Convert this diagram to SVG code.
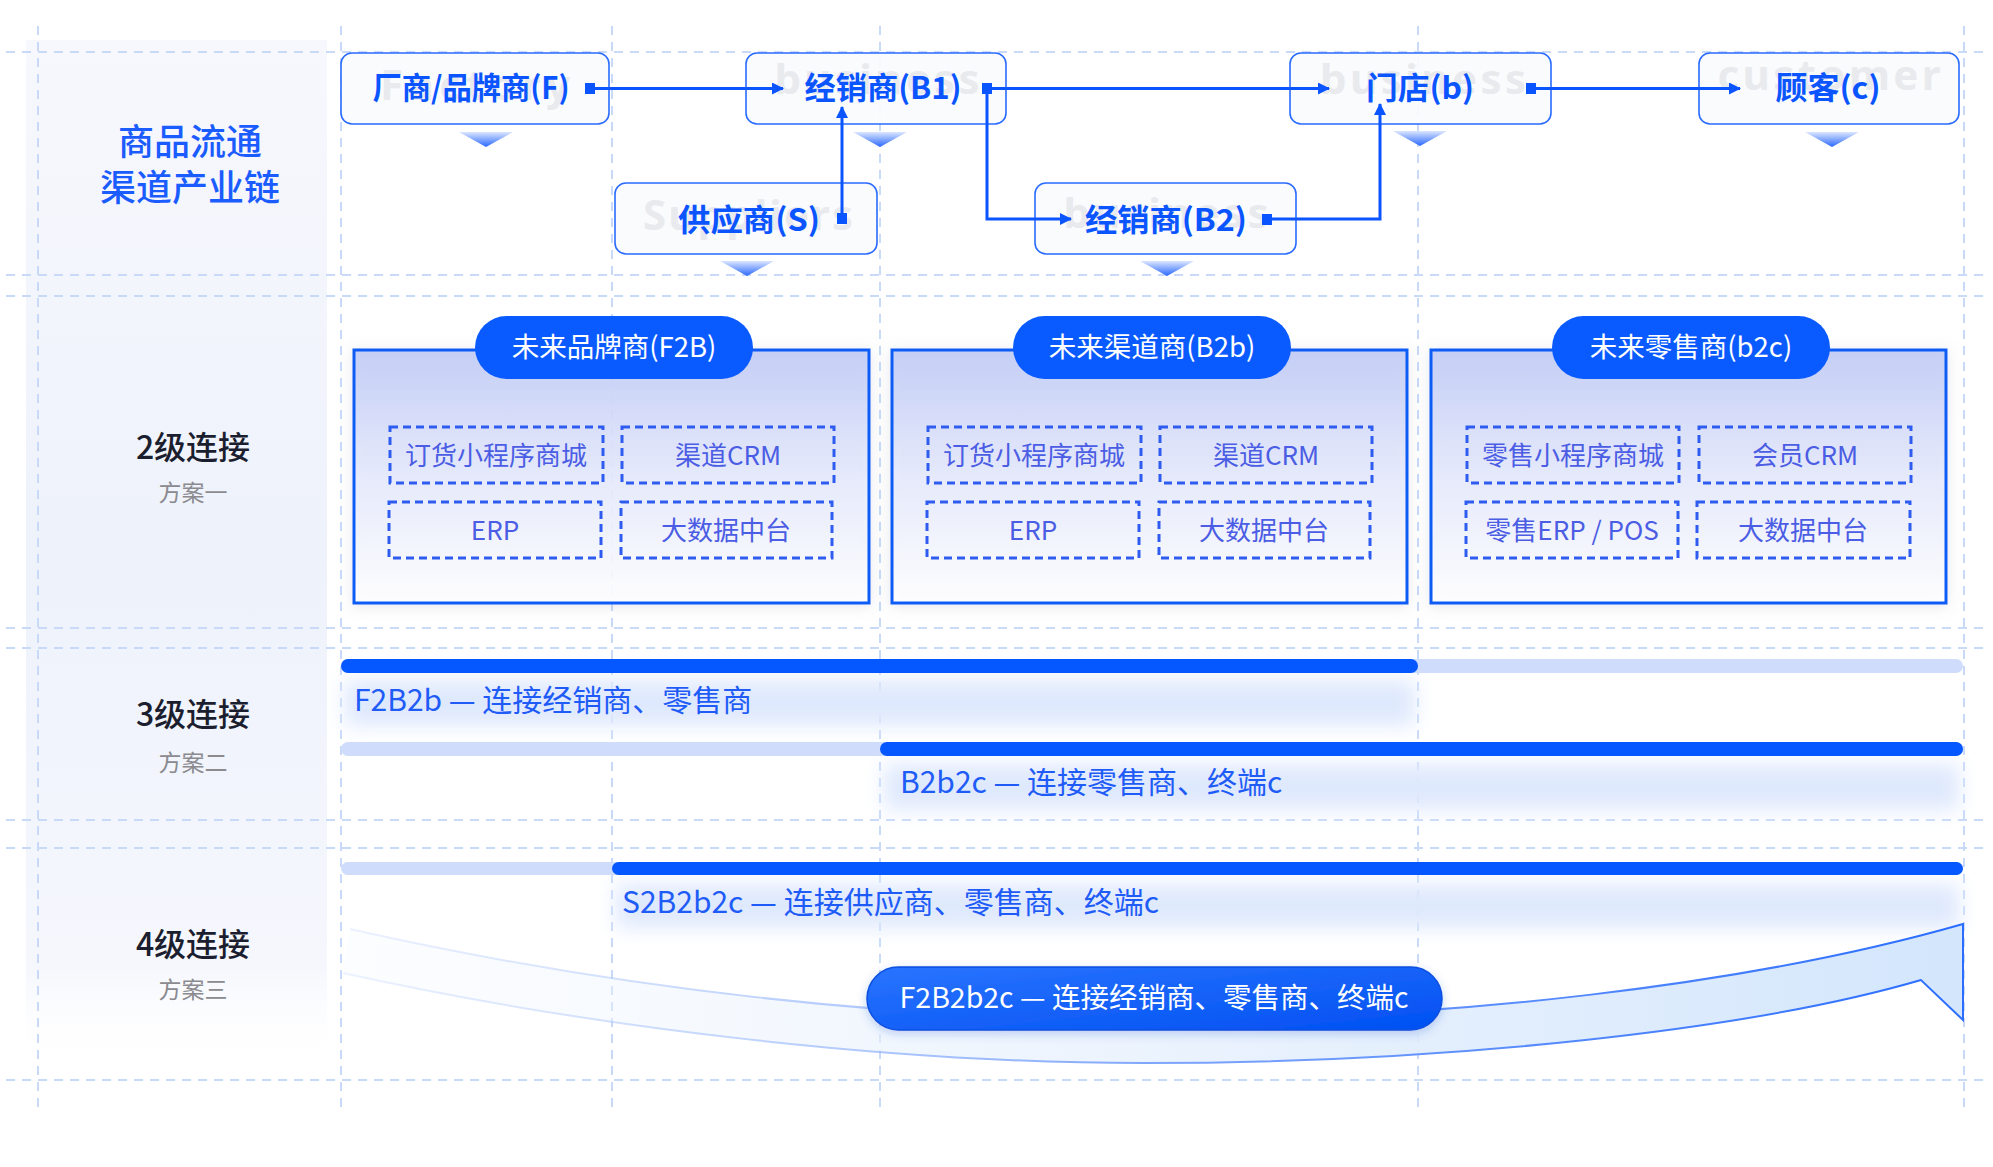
<svg xmlns="http://www.w3.org/2000/svg" width="1993" height="1167" viewBox="0 0 1993 1167">
<defs>
<style>
.grid{stroke:#c9daf9;stroke-width:2;stroke-dasharray:9 7;fill:none}
.box{fill:#fafbfd;fill-opacity:.9;stroke:#2a6bff;stroke-width:1.6}
.ntext{font-family:"Noto Sans CJK SC","Noto Sans",sans-serif;font-weight:700;font-size:31px;fill:#0a55ff;text-anchor:middle}
.ghost{font-family:"Noto Sans","Liberation Sans",sans-serif;font-weight:700;font-size:42px;fill:#e9eaed;text-anchor:middle}
.conn{stroke:#0a55ff;stroke-width:3;fill:none}
.dot{fill:#0a55ff}
.tri{fill:url(#triG)}
.title{font-family:"Noto Sans CJK SC","Noto Sans",sans-serif;font-weight:500;font-size:36px;fill:#1a5cff;text-anchor:middle}
.lvl{font-family:"Noto Sans CJK SC","Noto Sans",sans-serif;font-weight:500;font-size:32px;fill:#1b1e2e;text-anchor:middle}
.sub{font-family:"Noto Sans CJK SC","Noto Sans",sans-serif;font-weight:400;font-size:23px;fill:#8a8a8f;text-anchor:middle}
.panel{fill:url(#panelG);stroke:#0c5cf5;stroke-width:3}
.pill{fill:#0a5bff}
.ptext{font-family:"Noto Sans CJK SC","Noto Sans",sans-serif;font-weight:400;font-size:27.5px;fill:#ffffff;text-anchor:middle}
.dbox{fill:none;stroke:#2f5cf0;stroke-width:3;stroke-dasharray:8 5}
.dtext{font-family:"Noto Sans CJK SC","Noto Sans",sans-serif;font-weight:400;font-size:26px;fill:#4b5de4;text-anchor:middle}
.btext{font-family:"Noto Sans CJK SC","Noto Sans",sans-serif;font-weight:400;font-size:30px;fill:#1f5cf7}
.barL{fill:#cfdcfb}
.barD{fill:#0557ff}
.glow{fill:#dfe9fd;filter:url(#blur)}
</style>
<linearGradient id="triG" x1="0" y1="0" x2="0" y2="1">
<stop offset="0" stop-color="#dbe6ff"/>
<stop offset="1" stop-color="#2a68ff"/>
</linearGradient>
<linearGradient id="panelG" x1="0" y1="0" x2="0" y2="1">
<stop offset="0" stop-color="#c2ccf6" stop-opacity=".95"/>
<stop offset="0.55" stop-color="#e8ecfc" stop-opacity=".9"/>
<stop offset="1" stop-color="#ffffff" stop-opacity=".9"/>
</linearGradient>
<linearGradient id="leftG" x1="0" y1="0" x2="0" y2="1">
<stop offset="0" stop-color="#f7f8fd"/>
<stop offset="0.5" stop-color="#eef2fb"/>
<stop offset="0.9" stop-color="#f5f7fd"/>
<stop offset="1" stop-color="#ffffff" stop-opacity="0"/>
</linearGradient>
<linearGradient id="bandFill" gradientUnits="userSpaceOnUse" x1="340" y1="0" x2="1963" y2="0">
<stop offset="0" stop-color="#eef5fe" stop-opacity="0.2"/>
<stop offset="0.5" stop-color="#e6f0fd" stop-opacity="0.8"/>
<stop offset="1" stop-color="#d3e6fc"/>
</linearGradient>
<linearGradient id="bandStroke" gradientUnits="userSpaceOnUse" x1="340" y1="0" x2="1963" y2="0">
<stop offset="0" stop-color="#c4d6fb" stop-opacity="0.3"/>
<stop offset="0.5" stop-color="#7fa6fb"/>
<stop offset="1" stop-color="#2a6dff"/>
</linearGradient>
<linearGradient id="pillG" x1="0" y1="0" x2="1" y2="1">
<stop offset="0" stop-color="#2a74ff"/>
<stop offset="1" stop-color="#0050f2"/>
</linearGradient>
<filter id="blur" x="-10%" y="-60%" width="120%" height="220%">
<feGaussianBlur stdDeviation="10"/>
</filter>
<filter id="shadow" x="-10%" y="-20%" width="120%" height="140%">
<feDropShadow dx="0" dy="2" stdDeviation="7" flood-color="#6a7390" flood-opacity="0.18"/>
</filter>
<filter id="pshadow" x="-10%" y="-30%" width="120%" height="160%">
<feDropShadow dx="0" dy="3" stdDeviation="5" flood-color="#1a4fd0" flood-opacity="0.25"/>
</filter>
<marker id="arr" viewBox="0 0 12 12" refX="11" refY="6" markerWidth="12" markerHeight="12" markerUnits="userSpaceOnUse" orient="auto">
<path d="M0,0 L12,6 L0,12 z" fill="#0a55ff"/>
</marker>
</defs>

<rect width="1993" height="1167" fill="#ffffff"/>

<!-- left band -->
<rect x="26" y="40" width="301" height="1030" fill="url(#leftG)"/>

<!-- grid -->
<g id="grid">
<path class="grid" d="M6,52 H1990 M6,275 H1990 M6,296 H1990 M6,628 H1990 M6,648 H1990 M6,820 H1990 M6,848 H1990 M6,1080 H1990"/>
<path class="grid" d="M38,26 V1112 M341,26 V1112 M612,26 V1112 M880,26 V1112 M1418,26 V1112 M1964,26 V1112"/>
</g>

<!-- title -->
<g id="title">
<text class="title" x="190" y="155">商品流通</text>
<text class="title" x="190" y="201">渠道产业链</text>
</g>

<!-- level labels -->
<g id="lvl2"><text class="lvl" x="193" y="459">2级连接</text><text class="sub" x="193" y="501">方案一</text></g>
<g id="lvl3"><text class="lvl" x="193" y="726">3级连接</text><text class="sub" x="193" y="771">方案二</text></g>
<g id="lvl4"><text class="lvl" x="193" y="956">4级连接</text><text class="sub" x="193" y="998">方案三</text></g>

<!-- nodes: chain -->
<g id="node-F">
<rect class="box" x="341" y="53" width="268" height="71" rx="11"/>
<text class="ghost" x="475" y="100" textLength="190" lengthAdjust="spacing">Factory</text>
<text class="ntext" x="471" y="99" textLength="197" lengthAdjust="spacingAndGlyphs">厂商/品牌商(F)</text>
<polygon class="tri" points="459,132 513,132 486,147"/>
</g>
<g id="node-B1">
<rect class="box" x="746" y="53" width="260" height="71" rx="11"/>
<text class="ghost" x="877" y="94" textLength="205" lengthAdjust="spacing">business</text>
<text class="ntext" x="883" y="99" textLength="157" lengthAdjust="spacingAndGlyphs">经销商(B1)</text>
<polygon class="tri" points="853,132 907,132 880,147"/>
</g>
<g id="node-S">
<rect class="box" x="615" y="183" width="262" height="71" rx="11"/>
<text class="ghost" x="748" y="230" textLength="210" lengthAdjust="spacing">Suppliers</text>
<text class="ntext" x="749" y="231" textLength="142" lengthAdjust="spacingAndGlyphs">供应商(S)</text>
<polygon class="tri" points="720,261 774,261 747,276"/>
</g>
<g id="node-B2">
<rect class="box" x="1035" y="183" width="261" height="71" rx="11"/>
<text class="ghost" x="1166" y="228" textLength="205" lengthAdjust="spacing">business</text>
<text class="ntext" x="1166" y="231" textLength="162" lengthAdjust="spacingAndGlyphs">经销商(B2)</text>
<polygon class="tri" points="1140,261 1194,261 1167,276"/>
</g>
<g id="node-b">
<rect class="box" x="1290" y="53" width="261" height="71" rx="11"/>
<text class="ghost" x="1423" y="94" textLength="206" lengthAdjust="spacing">business</text>
<text class="ntext" x="1420" y="99" textLength="108" lengthAdjust="spacingAndGlyphs">门店(b)</text>
<polygon class="tri" points="1393,131 1447,131 1420,146"/>
</g>
<g id="node-c">
<rect class="box" x="1699" y="53" width="260" height="71" rx="11"/>
<text class="ghost" x="1829" y="90" textLength="223" lengthAdjust="spacing">customer</text>
<text class="ntext" x="1828" y="99" textLength="105" lengthAdjust="spacingAndGlyphs">顾客(c)</text>
<polygon class="tri" points="1805,132 1859,132 1832,147"/>
</g>

<!-- connectors -->
<g id="connectors">
<path class="conn" d="M595,88.5 H783" marker-end="url(#arr)"/>
<path class="conn" d="M842,218 V107" marker-end="url(#arr)"/>
<path class="conn" d="M992,88.5 H1329" marker-end="url(#arr)"/>
<path class="conn" d="M987,94 V219 H1071" marker-end="url(#arr)"/>
<path class="conn" d="M1272,219 H1380 V104" marker-end="url(#arr)"/>
<path class="conn" d="M1536,88.5 H1740" marker-end="url(#arr)"/>
<rect class="dot" x="585" y="83" width="10" height="11"/>
<rect class="dot" x="837" y="213" width="10" height="11"/>
<rect class="dot" x="982" y="83" width="10" height="11"/>
<rect class="dot" x="1262" y="214" width="10" height="11"/>
<rect class="dot" x="1526" y="83" width="10" height="11"/>
</g>

<!-- level 2 panels -->
<g id="panel-F2B">
<rect class="panel" x="354" y="350" width="515" height="253" filter="url(#shadow)"/>
<rect class="pill" x="475" y="316" width="278" height="63" rx="31.5"/>
<text class="ptext" x="614" y="357">未来品牌商(F2B)</text>
<rect class="dbox" x="390" y="427" width="213" height="56"/>
<text class="dtext" x="496" y="465">订货小程序商城</text>
<rect class="dbox" x="622" y="427" width="212" height="56"/>
<text class="dtext" x="728" y="465">渠道CRM</text>
<rect class="dbox" x="389" y="502" width="212" height="56"/>
<text class="dtext" x="495" y="540">ERP</text>
<rect class="dbox" x="621" y="502" width="211" height="56"/>
<text class="dtext" x="726" y="540">大数据中台</text>
</g>
<g id="panel-B2b">
<rect class="panel" x="892" y="350" width="515" height="253" filter="url(#shadow)"/>
<rect class="pill" x="1013" y="316" width="278" height="63" rx="31.5"/>
<text class="ptext" x="1152" y="357">未来渠道商(B2b)</text>
<rect class="dbox" x="928" y="427" width="213" height="56"/>
<text class="dtext" x="1034" y="465">订货小程序商城</text>
<rect class="dbox" x="1160" y="427" width="212" height="56"/>
<text class="dtext" x="1266" y="465">渠道CRM</text>
<rect class="dbox" x="927" y="502" width="212" height="56"/>
<text class="dtext" x="1033" y="540">ERP</text>
<rect class="dbox" x="1159" y="502" width="211" height="56"/>
<text class="dtext" x="1264" y="540">大数据中台</text>
</g>
<g id="panel-b2c">
<rect class="panel" x="1431" y="350" width="515" height="253" filter="url(#shadow)"/>
<rect class="pill" x="1552" y="316" width="278" height="63" rx="31.5"/>
<text class="ptext" x="1691" y="357">未来零售商(b2c)</text>
<rect class="dbox" x="1467" y="427" width="212" height="56"/>
<text class="dtext" x="1573" y="465">零售小程序商城</text>
<rect class="dbox" x="1699" y="427" width="212" height="56"/>
<text class="dtext" x="1805" y="465">会员CRM</text>
<rect class="dbox" x="1466" y="502" width="212" height="56"/>
<text class="dtext" x="1572" y="540">零售ERP / POS</text>
<rect class="dbox" x="1697" y="502" width="213" height="56"/>
<text class="dtext" x="1803" y="540">大数据中台</text>
</g>

<!-- level 3 -->
<g id="bar-F2B2b">
<rect class="glow" x="345" y="680" width="1070" height="46"/>
<rect class="barL" x="341" y="659" width="1622" height="14" rx="7"/>
<rect class="barD" x="341" y="659" width="1077" height="14" rx="7"/>
<text class="btext" x="354" y="711">F2B2b — 连接经销商、零售商</text>
</g>
<g id="bar-B2b2c">
<rect class="glow" x="884" y="764" width="1075" height="46"/>
<rect class="barL" x="341" y="742" width="1622" height="14" rx="7"/>
<rect class="barD" x="880" y="742" width="1083" height="14" rx="7"/>
<text class="btext" x="900" y="793">B2b2c — 连接零售商、终端c</text>
</g>

<!-- level 4 -->
<g id="bar-S2B2b2c">
<rect class="glow" x="616" y="884" width="1343" height="44"/>
<rect class="barL" x="341" y="862" width="1622" height="13" rx="6.5"/>
<rect class="barD" x="612" y="862" width="1351" height="13" rx="6.5"/>
<text class="btext" x="622" y="913">S2B2b2c — 连接供应商、零售商、终端c</text>
</g>

<g id="swoosh">
<path fill="url(#bandFill)" d="M350,929 C620,990 900,1020 1150,1020 C1450,1020 1750,985 1963,924 L1963,1020 L1921,980 C1750,1030 1450,1063 1143,1063 C900,1063 600,1030 343,973 Z"/>
<path fill="none" stroke="url(#bandStroke)" stroke-width="2" d="M350,929 C620,990 900,1020 1150,1020 C1450,1020 1750,985 1963,924 L1963,1020 L1921,980 C1750,1030 1450,1063 1143,1063 C900,1063 600,1030 343,973"/>
</g>
<g id="pill-F2B2b2c">
<rect x="867" y="967" width="575" height="63" rx="31.5" fill="url(#pillG)" stroke="#0a4fe0" stroke-width="1.5" filter="url(#pshadow)"/>
<text class="ptext" x="1154" y="1008" style="font-size:28.5px">F2B2b2c — 连接经销商、零售商、终端c</text>
</g>
</svg>
